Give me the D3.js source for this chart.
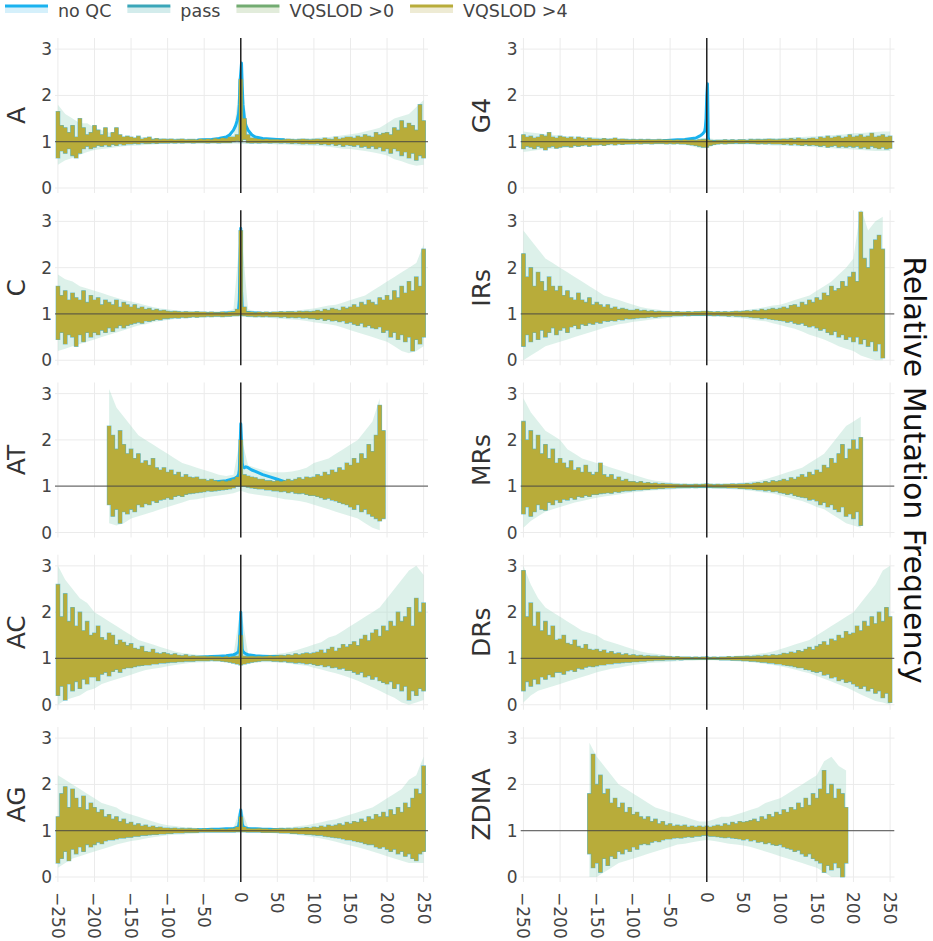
<!DOCTYPE html>
<html>
<head>
<meta charset="utf-8">
<script src="https://cdn.jsdelivr.net/npm/d3@7"></script>
<style>
body { margin: 0; background: #fff; }
svg { display: block; }
text { font-family: "DejaVu Sans", Verdana, sans-serif; }
</style>
</head>
<body>
<script>
// bins of the envelope data (5 bp) and of the confidence bands (10 bp)
const binPos = d3.range(-250, 251, 5)
const ciPos = d3.range(-250, 251, 10)
// positions of the "no QC" line around the centre
const centerPos = [-60,-50,-40,-30,-20,-15,-10,-7,-5,-3,-2,-1,0,1,2,3,5,7,10,15,20,30,40,50,60]

const seriesNames = ["no QC", "pass", "VQSLOD >0", "VQSLOD >4"]
const xTicks = [-250,-200,-150,-100,-50,0,50,100,150,200,250]
const yTicks = [0,1,2,3]

// ---- A ----
const A_hi = [1.65,1.35,1.3,1.2,1.35,1.1,1.5,1.3,1.15,1.2,
  1.35,1.25,1.15,1.3,1.1,1.2,1.3,1.15,1.1,1.12,
  1.1,1.08,1.12,1.06,1.08,1.1,1.05,1.07,1.05,1.06,
  1.05,1.06,1.04,1.05,1.06,1.04,1.05,1.05,1.04,1.06,
  1.05,1.06,1.05,1.07,1.06,1.08,1.07,1.1,1.1,1.15,
  2.35,1.5,1.15,1.08,1.07,1.06,1.05,1.06,1.05,1.05,
  1.05,1.04,1.05,1.06,1.05,1.04,1.05,1.06,1.05,1.04,
  1.05,1.06,1.05,1.08,1.06,1.05,1.1,1.06,1.08,1.1,
  1.1,1.08,1.12,1.1,1.15,1.12,1.1,1.2,1.15,1.18,
  1.2,1.15,1.3,1.25,1.45,1.3,1.4,1.35,1.25,1.8,
  1.45]
const A_lo = [0.65,0.8,0.75,0.85,0.7,0.65,0.75,0.85,0.9,0.85,
  0.88,0.92,0.9,0.93,0.9,0.94,0.92,0.95,0.93,0.95,
  0.95,0.96,0.95,0.97,0.96,0.96,0.97,0.96,0.97,0.97,
  0.97,0.98,0.97,0.98,0.97,0.98,0.98,0.97,0.98,0.98,
  0.98,0.97,0.98,0.98,0.97,0.98,0.98,0.98,1.0,1.02,
  1.0,1.05,0.98,0.97,0.98,0.97,0.98,0.98,0.97,0.98,
  0.98,0.97,0.98,0.97,0.96,0.97,0.96,0.95,0.96,0.95,
  0.95,0.96,0.94,0.95,0.93,0.95,0.92,0.94,0.9,0.93,
  0.92,0.9,0.93,0.88,0.9,0.86,0.9,0.85,0.88,0.8,
  0.85,0.75,0.85,0.8,0.7,0.78,0.65,0.75,0.6,0.7,
  0.65]
const A_ciHi = [1.8,1.6,1.5,1.4,1.4,1.3,1.25,1.2,1.15,1.12,
  1.1,1.1,1.1,1.08,1.08,1.07,1.07,1.07,1.06,1.06,
  1.07,1.07,1.08,1.1,1.15,2.5,1.2,1.1,1.08,1.07,
  1.07,1.07,1.06,1.07,1.07,1.08,1.09,1.1,1.12,1.14,
  1.16,1.18,1.22,1.26,1.3,1.4,1.5,1.55,1.6,1.75,
  1.9]
const A_ciLo = [0.5,0.6,0.65,0.72,0.78,0.82,0.84,0.86,0.88,0.9,
  0.91,0.92,0.93,0.94,0.95,0.95,0.95,0.96,0.96,0.96,
  0.96,0.96,0.96,0.96,0.96,0.95,0.95,0.95,0.95,0.95,
  0.94,0.94,0.93,0.92,0.92,0.91,0.9,0.89,0.87,0.85,
  0.84,0.82,0.8,0.77,0.74,0.7,0.62,0.58,0.52,0.48,
  0.5]
const A_qc = [1.03,1.04,1.05,1.07,1.1,1.15,1.25,1.35,1.45,1.6,1.8,2.3,2.5,2.7,2.2,1.8,1.5,1.35,1.25,1.15,1.1,1.07,1.06,1.05,1.04]

// ---- G4 ----
const G4_hi = [1.15,1.1,1.12,1.08,1.1,1.15,1.12,1.2,1.1,1.08,
  1.12,1.1,1.08,1.1,1.06,1.1,1.08,1.05,1.08,1.06,
  1.06,1.05,1.07,1.05,1.06,1.08,1.05,1.06,1.05,1.04,
  1.05,1.04,1.05,1.04,1.05,1.04,1.04,1.05,1.04,1.04,
  1.04,1.03,1.04,1.03,1.04,1.03,1.04,1.03,1.04,1.05,
  1.05,1.03,1.02,1.03,1.03,1.04,1.03,1.04,1.03,1.04,
  1.04,1.03,1.05,1.04,1.05,1.04,1.05,1.06,1.05,1.04,
  1.05,1.06,1.05,1.07,1.05,1.08,1.06,1.05,1.07,1.08,
  1.06,1.1,1.08,1.12,1.08,1.1,1.12,1.08,1.1,1.15,
  1.1,1.12,1.15,1.1,1.12,1.18,1.1,1.12,1.15,1.1,
  1.12]
const G4_lo = [0.85,0.9,0.88,0.85,0.9,0.87,0.82,0.88,0.9,0.86,
  0.88,0.9,0.9,0.88,0.92,0.9,0.92,0.93,0.9,0.93,
  0.93,0.94,0.92,0.94,0.95,0.93,0.95,0.94,0.95,0.95,
  0.95,0.96,0.95,0.96,0.96,0.95,0.96,0.96,0.96,0.95,
  0.96,0.95,0.96,0.95,0.95,0.94,0.93,0.92,0.9,0.88,
  0.88,0.92,0.94,0.95,0.96,0.95,0.96,0.96,0.97,0.96,
  0.96,0.97,0.96,0.96,0.95,0.96,0.95,0.96,0.95,0.95,
  0.95,0.94,0.95,0.93,0.95,0.93,0.92,0.94,0.92,0.93,
  0.92,0.9,0.92,0.88,0.9,0.92,0.88,0.9,0.88,0.9,
  0.88,0.9,0.86,0.88,0.85,0.9,0.87,0.85,0.88,0.84,
  0.86]
const G4_ciHi = [1.22,1.2,1.18,1.16,1.15,1.13,1.12,1.11,1.1,1.1,
  1.09,1.08,1.08,1.07,1.07,1.06,1.06,1.06,1.06,1.06,
  1.06,1.06,1.06,1.06,1.07,1.08,1.06,1.06,1.06,1.06,
  1.06,1.07,1.07,1.07,1.08,1.08,1.09,1.1,1.1,1.11,
  1.12,1.13,1.14,1.15,1.16,1.18,1.19,1.2,1.21,1.22,
  1.22]
const G4_ciLo = [0.78,0.8,0.82,0.84,0.85,0.86,0.87,0.88,0.89,0.9,
  0.91,0.92,0.92,0.93,0.93,0.94,0.94,0.94,0.94,0.94,
  0.94,0.94,0.93,0.9,0.86,0.86,0.92,0.94,0.94,0.94,
  0.94,0.94,0.93,0.93,0.92,0.92,0.91,0.9,0.9,0.89,
  0.88,0.87,0.86,0.85,0.84,0.83,0.82,0.81,0.8,0.8,
  0.8]
const G4_qc = [1.02,1.03,1.04,1.05,1.07,1.08,1.12,1.15,1.18,1.22,1.3,1.5,2.0,2.25,1.1,1.0,1.0,1.0,1.0,1.0,1.0,1.0,1.0,1.0,1.0]

// ---- C ----
const C_hi = [1.6,1.4,1.5,1.3,1.45,1.35,1.3,1.5,1.25,1.4,
  1.3,1.35,1.2,1.3,1.25,1.2,1.3,1.15,1.25,1.2,
  1.15,1.2,1.12,1.15,1.1,1.12,1.08,1.1,1.07,1.08,
  1.06,1.05,1.06,1.05,1.04,1.05,1.04,1.04,1.05,1.04,
  1.04,1.03,1.04,1.03,1.03,1.04,1.03,1.04,1.05,1.1,
  2.8,1.15,1.05,1.04,1.03,1.04,1.03,1.04,1.03,1.04,
  1.04,1.05,1.04,1.05,1.05,1.04,1.06,1.05,1.06,1.05,
  1.06,1.08,1.06,1.1,1.08,1.12,1.1,1.08,1.15,1.12,
  1.15,1.2,1.15,1.25,1.2,1.3,1.25,1.2,1.35,1.3,
  1.4,1.3,1.5,1.35,1.6,1.45,1.7,1.5,1.8,1.6,
  2.4]
const C_lo = [0.45,0.6,0.35,0.55,0.5,0.3,0.55,0.4,0.6,0.5,
  0.6,0.55,0.65,0.6,0.7,0.62,0.7,0.75,0.7,0.75,
  0.78,0.8,0.82,0.8,0.85,0.84,0.86,0.88,0.87,0.9,
  0.9,0.91,0.92,0.91,0.93,0.92,0.93,0.94,0.93,0.94,
  0.94,0.95,0.94,0.95,0.95,0.94,0.95,0.95,0.96,0.96,
  0.97,0.96,0.95,0.95,0.94,0.95,0.94,0.95,0.94,0.94,
  0.94,0.93,0.94,0.92,0.93,0.92,0.93,0.91,0.92,0.9,
  0.9,0.88,0.9,0.86,0.88,0.85,0.86,0.83,0.85,0.8,
  0.82,0.78,0.75,0.8,0.72,0.75,0.7,0.68,0.72,0.6,
  0.65,0.5,0.6,0.45,0.55,0.4,0.5,0.2,0.45,0.35,
  0.5]
const C_ciHi = [1.85,1.75,1.7,1.6,1.55,1.5,1.45,1.4,1.35,1.3,
  1.27,1.23,1.19,1.15,1.12,1.1,1.08,1.07,1.07,1.06,
  1.06,1.06,1.06,1.06,1.1,2.9,1.1,1.06,1.06,1.06,
  1.06,1.07,1.07,1.08,1.1,1.12,1.15,1.18,1.2,1.25,
  1.3,1.35,1.4,1.5,1.6,1.7,1.8,1.9,2.0,2.1,
  2.5]
const C_ciLo = [0.2,0.25,0.3,0.35,0.4,0.45,0.5,0.55,0.6,0.65,
  0.7,0.75,0.78,0.82,0.85,0.87,0.89,0.9,0.91,0.92,
  0.92,0.93,0.93,0.93,0.94,0.95,0.93,0.92,0.92,0.91,
  0.9,0.89,0.88,0.87,0.85,0.82,0.8,0.78,0.75,0.7,
  0.65,0.6,0.55,0.5,0.45,0.4,0.3,0.2,0.15,0.2,
  0.3]
const C_qc = [1.0,1.0,1.0,1.01,1.02,1.02,1.03,1.04,1.05,1.1,1.3,2.0,2.85,1.5,1.1,1.05,1.04,1.03,1.03,1.02,1.02,1.01,1.0,1.0,1.0]

// ---- IRs ----
const IRs_hi = [2.3,1.8,2.0,1.6,1.9,1.7,1.5,1.8,1.6,1.5,
  1.6,1.4,1.5,1.35,1.3,1.45,1.3,1.25,1.35,1.2,
  1.25,1.2,1.15,1.2,1.12,1.15,1.1,1.12,1.1,1.08,
  1.08,1.1,1.07,1.08,1.06,1.07,1.05,1.06,1.05,1.05,
  1.05,1.04,1.05,1.04,1.04,1.05,1.04,1.05,1.05,1.06,
  1.06,1.05,1.04,1.05,1.04,1.05,1.04,1.05,1.06,1.05,
  1.06,1.07,1.06,1.08,1.07,1.1,1.08,1.1,1.12,1.1,
  1.12,1.15,1.12,1.18,1.2,1.15,1.25,1.2,1.3,1.25,
  1.35,1.3,1.45,1.4,1.6,1.5,1.55,1.7,1.6,1.8,
  1.9,1.7,3.2,2.2,2.0,2.4,2.6,2.7,2.4,null,
  null]
const IRs_lo = [0.3,0.55,0.4,0.6,0.45,0.65,0.5,0.6,0.7,0.55,
  0.65,0.7,0.6,0.72,0.75,0.68,0.78,0.75,0.8,0.78,
  0.82,0.8,0.85,0.84,0.86,0.85,0.88,0.87,0.9,0.89,
  0.9,0.91,0.92,0.92,0.93,0.94,0.93,0.94,0.95,0.95,
  0.95,0.96,0.96,0.96,0.97,0.96,0.97,0.97,0.97,0.97,
  0.97,0.97,0.96,0.97,0.96,0.96,0.95,0.96,0.95,0.95,
  0.94,0.94,0.93,0.92,0.92,0.9,0.91,0.89,0.88,0.87,
  0.86,0.85,0.82,0.84,0.8,0.78,0.8,0.75,0.72,0.74,
  0.7,0.65,0.68,0.6,0.55,0.62,0.5,0.55,0.45,0.5,
  0.4,0.5,0.35,0.45,0.3,0.4,0.2,0.35,0.05,null,
  null]
const IRs_ciHi = [2.8,2.6,2.4,2.2,2.1,2.0,1.9,1.8,1.7,1.6,
  1.5,1.4,1.35,1.3,1.25,1.2,1.15,1.12,1.1,1.08,
  1.07,1.06,1.06,1.06,1.06,1.07,1.06,1.06,1.06,1.07,
  1.08,1.1,1.12,1.15,1.18,1.2,1.25,1.3,1.35,1.4,
  1.5,1.6,1.7,1.85,2.0,2.2,3.3,2.8,3.0,3.1,
  null]
const IRs_ciLo = [0.0,0.1,0.2,0.3,0.35,0.4,0.45,0.5,0.55,0.6,
  0.65,0.7,0.74,0.78,0.8,0.83,0.85,0.87,0.89,0.9,
  0.92,0.93,0.94,0.95,0.95,0.95,0.94,0.94,0.93,0.92,
  0.9,0.88,0.86,0.84,0.8,0.76,0.72,0.68,0.62,0.55,
  0.5,0.45,0.38,0.3,0.25,0.2,0.1,0.05,0.0,0.0,
  null]
const IRs_qc = [1,1,1,1,1,1,1,1,1,1,1,1,1.02,1,1,1,1,1,1,1,1,1,1,1,1]

// ---- AT ----
const AT_hi = [null,null,null,null,null,null,null,null,null,null,
  null,null,null,null,2.3,2.1,1.8,2.2,1.9,1.7,
  1.8,1.6,1.7,1.5,1.55,1.45,1.6,1.4,1.35,1.4,
  1.3,1.35,1.25,1.3,1.2,1.25,1.2,1.18,1.2,1.15,
  1.15,1.12,1.15,1.12,1.1,1.12,1.1,1.12,1.15,1.2,
  2.0,1.25,1.22,1.2,1.18,1.15,1.15,1.12,1.12,1.1,
  1.12,1.1,1.12,1.15,1.12,1.15,1.18,1.15,1.2,1.18,
  1.2,1.25,1.22,1.3,1.25,1.35,1.3,1.4,1.35,1.5,
  1.45,1.6,1.5,1.7,1.6,1.9,1.75,2.1,2.75,2.2,
  null,null,null,null,null,null,null,null,null,null,
  null]
const AT_lo = [null,null,null,null,null,null,null,null,null,null,
  null,null,null,null,0.6,0.35,0.5,0.2,0.45,0.4,
  0.5,0.45,0.6,0.55,0.62,0.6,0.68,0.65,0.7,0.72,
  0.75,0.72,0.78,0.8,0.78,0.82,0.84,0.85,0.86,0.87,
  0.88,0.9,0.89,0.9,0.91,0.92,0.93,0.94,0.96,1.0,
  1.0,1.0,0.98,0.96,0.95,0.94,0.94,0.92,0.92,0.9,
  0.9,0.88,0.89,0.86,0.88,0.85,0.84,0.85,0.82,0.8,
  0.8,0.78,0.75,0.72,0.74,0.7,0.68,0.65,0.62,0.6,
  0.55,0.5,0.6,0.45,0.5,0.4,0.35,0.3,0.25,0.3,
  null,null,null,null,null,null,null,null,null,null,
  null]
const AT_ciHi = [null,null,null,null,null,null,null,3.1,2.7,2.5,
  2.3,2.1,2.0,1.9,1.8,1.7,1.6,1.5,1.45,1.4,
  1.35,1.3,1.25,1.22,1.25,2.1,1.45,1.4,1.35,1.3,
  1.3,1.3,1.32,1.35,1.4,1.5,1.55,1.6,1.7,1.8,
  1.9,2.0,2.2,2.4,2.9,null,null,null,null,null,
  null]
const AT_ciLo = [null,null,null,null,null,null,null,0.2,0.15,0.2,
  0.3,0.35,0.4,0.45,0.5,0.55,0.6,0.65,0.7,0.72,
  0.75,0.78,0.8,0.82,0.85,0.9,0.85,0.82,0.8,0.78,
  0.75,0.72,0.7,0.68,0.65,0.6,0.55,0.5,0.45,0.4,
  0.35,0.3,0.2,0.1,0.05,null,null,null,null,null,
  null]
const AT_qc = [1.05,1.07,1.08,1.1,1.12,1.14,1.16,1.18,1.2,1.25,1.35,1.8,2.35,2.0,1.5,1.42,1.4,1.42,1.4,1.35,1.32,1.25,1.2,1.15,1.1]

// ---- MRs ----
const MRs_hi = [2.4,2.0,2.2,1.8,2.1,1.7,1.9,1.6,1.8,1.5,
  1.6,1.5,1.4,1.55,1.35,1.4,1.3,1.45,1.3,1.25,
  1.3,1.5,1.25,1.2,1.25,1.15,1.2,1.12,1.15,1.1,
  1.1,1.08,1.1,1.07,1.08,1.06,1.07,1.05,1.06,1.05,
  1.05,1.04,1.04,1.03,1.04,1.03,1.03,1.04,1.03,1.04,
  1.05,1.04,1.03,1.04,1.03,1.04,1.04,1.05,1.04,1.05,
  1.05,1.06,1.05,1.07,1.08,1.07,1.1,1.08,1.12,1.1,
  1.12,1.15,1.12,1.18,1.15,1.2,1.25,1.2,1.3,1.25,
  1.35,1.3,1.45,1.4,1.6,1.5,1.7,1.9,1.6,1.8,
  2.0,1.8,2.05,null,null,null,null,null,null,null,
  null]
const MRs_lo = [0.4,0.55,0.35,0.45,0.6,0.5,0.48,0.65,0.6,0.7,
  0.65,0.72,0.7,0.75,0.72,0.78,0.76,0.8,0.78,0.82,
  0.82,0.84,0.85,0.86,0.85,0.88,0.87,0.89,0.9,0.9,
  0.91,0.92,0.92,0.93,0.93,0.94,0.94,0.95,0.95,0.96,
  0.96,0.96,0.97,0.97,0.97,0.97,0.98,0.97,0.98,0.98,
  0.98,0.98,0.97,0.97,0.97,0.97,0.96,0.96,0.96,0.95,
  0.95,0.94,0.94,0.93,0.92,0.92,0.9,0.91,0.88,0.89,
  0.86,0.85,0.82,0.84,0.8,0.78,0.76,0.75,0.7,0.72,
  0.68,0.6,0.65,0.55,0.6,0.5,0.45,0.55,0.35,0.4,
  0.3,0.45,0.15,null,null,null,null,null,null,null,
  null]
const MRs_ciHi = [2.9,2.6,2.4,2.2,2.1,2.0,1.8,1.7,1.6,1.55,
  1.5,1.45,1.4,1.35,1.3,1.25,1.2,1.15,1.12,1.1,
  1.08,1.07,1.06,1.06,1.06,1.06,1.06,1.06,1.06,1.07,
  1.08,1.1,1.12,1.15,1.2,1.25,1.3,1.35,1.4,1.5,
  1.6,1.7,1.9,2.1,2.3,2.4,2.5,null,null,null,
  null]
const MRs_ciLo = [0.1,0.25,0.35,0.45,0.5,0.55,0.6,0.65,0.68,0.72,
  0.75,0.78,0.8,0.82,0.85,0.87,0.88,0.9,0.91,0.92,
  0.93,0.94,0.95,0.95,0.95,0.95,0.95,0.94,0.94,0.93,
  0.92,0.9,0.88,0.86,0.84,0.8,0.76,0.72,0.68,0.62,
  0.55,0.5,0.4,0.3,0.2,0.15,0.1,null,null,null,
  null]
const MRs_qc = [1,1,1,1,1,1,1,1,1,1,1,1,1.02,1,1,1,1,1,1,1,1,1,1,1,1]

// ---- AC ----
const AC_hi = [2.6,1.9,2.4,1.8,2.1,1.7,2.0,1.6,1.8,1.5,
  1.55,1.7,1.45,1.4,1.55,1.5,1.3,1.4,1.35,1.28,
  1.32,1.22,1.2,1.26,1.15,1.14,1.2,1.12,1.1,1.13,
  1.1,1.08,1.1,1.07,1.06,1.08,1.05,1.06,1.05,1.05,
  1.05,1.04,1.05,1.04,1.04,1.03,1.04,1.03,1.04,1.05,
  1.5,1.05,1.04,1.05,1.04,1.05,1.04,1.05,1.06,1.05,
  1.06,1.07,1.06,1.08,1.07,1.1,1.08,1.1,1.12,1.1,
  1.12,1.14,1.18,1.12,1.2,1.24,1.16,1.22,1.3,1.25,
  1.3,1.36,1.28,1.42,1.5,1.38,1.55,1.62,1.48,1.7,
  1.6,1.8,1.7,2.0,1.8,1.9,2.1,1.7,2.3,2.0,
  2.2]
const AC_lo = [0.2,0.4,0.1,0.45,0.3,0.5,0.35,0.55,0.45,0.6,
  0.6,0.52,0.66,0.7,0.62,0.72,0.76,0.7,0.78,0.8,
  0.8,0.82,0.84,0.85,0.86,0.86,0.88,0.88,0.9,0.9,
  0.91,0.92,0.92,0.93,0.93,0.94,0.94,0.94,0.95,0.95,
  0.95,0.95,0.96,0.95,0.95,0.94,0.93,0.92,0.9,0.88,
  0.86,0.88,0.9,0.92,0.93,0.94,0.95,0.95,0.95,0.94,
  0.94,0.93,0.94,0.92,0.92,0.9,0.91,0.9,0.88,0.89,
  0.87,0.85,0.86,0.82,0.84,0.8,0.81,0.77,0.79,0.74,
  0.74,0.7,0.66,0.7,0.6,0.63,0.55,0.6,0.52,0.48,
  0.45,0.5,0.35,0.45,0.3,0.4,0.1,0.3,0.2,0.35,
  0.3]
const AC_ciHi = [3.0,2.7,2.5,2.3,2.2,2.0,1.9,1.8,1.7,1.6,
  1.5,1.4,1.35,1.3,1.25,1.2,1.15,1.12,1.1,1.08,
  1.07,1.06,1.06,1.06,1.08,2.1,1.1,1.07,1.07,1.08,
  1.1,1.12,1.15,1.2,1.25,1.3,1.35,1.45,1.5,1.6,
  1.7,1.8,1.9,2.0,2.1,2.3,2.5,2.7,2.9,3.0,
  2.8]
const AC_ciLo = [0.0,0.1,0.15,0.2,0.3,0.35,0.45,0.5,0.55,0.6,
  0.65,0.7,0.75,0.78,0.8,0.83,0.86,0.88,0.9,0.91,
  0.92,0.93,0.93,0.92,0.88,0.84,0.88,0.91,0.92,0.92,
  0.91,0.9,0.88,0.86,0.84,0.8,0.76,0.72,0.68,0.63,
  0.58,0.52,0.45,0.38,0.3,0.22,0.15,0.05,0.0,0.05,
  0.1]
const AC_qc = [1.02,1.03,1.04,1.05,1.06,1.07,1.08,1.1,1.12,1.15,1.3,1.6,2.0,1.5,1.2,1.15,1.12,1.1,1.08,1.07,1.06,1.05,1.04,1.04,1.03]

// ---- DRs ----
const DRs_hi = [2.9,1.9,2.2,1.7,2.0,1.6,1.8,1.5,1.7,1.4,
  1.42,1.5,1.33,1.3,1.4,1.26,1.22,1.3,1.2,1.18,
  1.2,1.15,1.18,1.12,1.15,1.1,1.12,1.08,1.1,1.07,
  1.08,1.06,1.07,1.05,1.06,1.05,1.05,1.04,1.05,1.04,
  1.04,1.03,1.04,1.03,1.03,1.03,1.02,1.03,1.02,1.03,
  1.03,1.02,1.03,1.02,1.03,1.03,1.04,1.03,1.04,1.04,
  1.04,1.05,1.04,1.05,1.06,1.05,1.07,1.06,1.08,1.07,
  1.08,1.11,1.1,1.14,1.12,1.17,1.15,1.2,1.24,1.19,
  1.26,1.3,1.36,1.29,1.42,1.38,1.5,1.44,1.58,1.52,
  1.55,1.7,1.6,1.8,1.7,1.9,1.75,2.0,1.8,2.1,
  1.9]
const DRs_lo = [0.3,0.5,0.4,0.55,0.45,0.6,0.55,0.65,0.6,0.7,
  0.7,0.66,0.73,0.75,0.72,0.79,0.77,0.81,0.83,0.82,
  0.84,0.86,0.86,0.88,0.88,0.9,0.9,0.91,0.92,0.92,
  0.93,0.93,0.94,0.94,0.95,0.95,0.96,0.96,0.96,0.97,
  0.97,0.97,0.98,0.97,0.98,0.98,0.98,0.98,0.98,0.98,
  0.98,0.98,0.98,0.98,0.97,0.97,0.97,0.96,0.96,0.96,
  0.95,0.95,0.94,0.94,0.93,0.92,0.92,0.9,0.9,0.88,
  0.88,0.86,0.85,0.84,0.82,0.8,0.8,0.76,0.75,0.72,
  0.7,0.72,0.64,0.66,0.58,0.6,0.52,0.55,0.48,0.5,
  0.45,0.4,0.35,0.4,0.3,0.35,0.25,0.3,0.15,0.25,
  0.05]
const DRs_ciHi = [3.0,2.6,2.3,2.1,2.0,1.9,1.8,1.7,1.6,1.55,
  1.5,1.4,1.35,1.3,1.25,1.2,1.15,1.12,1.1,1.08,
  1.06,1.05,1.05,1.05,1.05,1.05,1.05,1.05,1.05,1.06,
  1.07,1.08,1.1,1.12,1.15,1.2,1.25,1.3,1.35,1.4,
  1.5,1.6,1.7,1.8,1.9,2.0,2.2,2.4,2.6,2.9,
  3.0]
const DRs_ciLo = [0.05,0.2,0.3,0.35,0.4,0.45,0.5,0.55,0.6,0.65,
  0.7,0.74,0.78,0.8,0.83,0.86,0.88,0.9,0.91,0.92,
  0.93,0.94,0.95,0.95,0.96,0.96,0.96,0.95,0.95,0.94,
  0.93,0.92,0.9,0.88,0.86,0.83,0.8,0.76,0.72,0.68,
  0.62,0.56,0.5,0.44,0.38,0.3,0.22,0.15,0.08,0.05,
  0.0]
const DRs_qc = [1,1,1,1,1,1,1,1,1,1,1,1,1.02,1,1,1,1,1,1,1,1,1,1,1,1]

// ---- AG ----
const AG_hi = [1.3,1.8,1.95,1.5,1.9,1.7,1.5,1.75,1.45,1.6,
  1.5,1.4,1.45,1.3,1.35,1.25,1.3,1.2,1.25,1.15,
  1.18,1.12,1.15,1.1,1.12,1.08,1.1,1.07,1.08,1.06,
  1.06,1.05,1.06,1.04,1.05,1.04,1.05,1.04,1.04,1.03,
  1.04,1.03,1.04,1.03,1.03,1.04,1.03,1.04,1.05,1.08,
  1.3,1.08,1.05,1.04,1.04,1.05,1.04,1.04,1.03,1.04,
  1.04,1.05,1.04,1.05,1.04,1.06,1.05,1.06,1.07,1.06,
  1.08,1.07,1.1,1.08,1.12,1.1,1.12,1.15,1.12,1.18,
  1.15,1.2,1.18,1.25,1.2,1.3,1.25,1.35,1.3,1.4,
  1.3,1.45,1.35,1.5,1.4,1.6,1.5,1.7,1.9,1.8,
  2.4]
const AG_lo = [0.3,0.4,0.55,0.35,0.6,0.5,0.65,0.55,0.7,0.65,
  0.7,0.75,0.72,0.78,0.8,0.8,0.82,0.84,0.84,0.86,
  0.86,0.88,0.88,0.9,0.9,0.91,0.92,0.92,0.93,0.93,
  0.94,0.94,0.95,0.95,0.95,0.96,0.96,0.96,0.96,0.97,
  0.97,0.97,0.97,0.97,0.97,0.97,0.97,0.97,0.97,0.98,
  0.98,0.98,0.97,0.97,0.97,0.97,0.96,0.96,0.96,0.96,
  0.96,0.95,0.95,0.95,0.94,0.94,0.93,0.93,0.92,0.92,
  0.91,0.9,0.9,0.88,0.87,0.86,0.85,0.84,0.82,0.8,
  0.8,0.78,0.76,0.75,0.72,0.7,0.7,0.65,0.62,0.65,
  0.6,0.55,0.6,0.5,0.55,0.45,0.5,0.4,0.35,0.5,
  0.55]
const AG_ciHi = [2.2,2.1,2.0,1.9,1.8,1.7,1.6,1.55,1.5,1.4,
  1.35,1.3,1.25,1.2,1.15,1.12,1.1,1.08,1.07,1.06,
  1.06,1.05,1.05,1.05,1.06,1.5,1.08,1.05,1.05,1.05,
  1.06,1.07,1.08,1.1,1.12,1.15,1.18,1.22,1.25,1.3,
  1.35,1.4,1.45,1.5,1.6,1.7,1.8,1.9,2.1,2.2,
  2.6]
const AG_ciLo = [0.2,0.3,0.4,0.45,0.5,0.55,0.6,0.65,0.7,0.74,
  0.78,0.8,0.83,0.86,0.88,0.9,0.91,0.92,0.93,0.94,
  0.95,0.95,0.95,0.95,0.95,0.95,0.95,0.95,0.95,0.95,
  0.94,0.93,0.92,0.9,0.88,0.86,0.83,0.8,0.76,0.72,
  0.68,0.64,0.6,0.55,0.5,0.45,0.4,0.35,0.3,0.3,
  0.3]
const AG_qc = [1.02,1.02,1.03,1.03,1.04,1.04,1.05,1.06,1.07,1.1,1.2,1.35,1.45,1.3,1.15,1.1,1.07,1.06,1.05,1.04,1.04,1.03,1.03,1.02,1.02]

// ---- ZDNA ----
const ZDNA_hi = [null,null,null,null,null,null,null,null,null,null,
  null,null,null,null,null,null,null,null,1.8,2.65,
  2.0,2.2,1.8,1.9,1.6,1.7,1.5,1.6,1.4,1.5,
  1.35,1.4,1.3,1.25,1.3,1.2,1.25,1.15,1.2,1.12,
  1.15,1.1,1.12,1.1,1.12,1.08,1.1,1.08,1.1,1.08,
  1.1,1.08,1.1,1.12,1.1,1.15,1.12,1.18,1.15,1.2,
  1.18,1.2,1.22,1.25,1.2,1.3,1.25,1.35,1.3,1.4,
  1.35,1.45,1.4,1.5,1.45,1.6,1.5,1.7,1.55,1.8,
  1.7,1.9,2.3,1.8,2.0,1.7,1.9,1.8,1.5,null,
  null,null,null,null,null,null,null,null,null,null,
  null]
const ZDNA_lo = [null,null,null,null,null,null,null,null,null,null,
  null,null,null,null,null,null,null,null,0.5,0.2,
  0.3,0.1,0.4,0.25,0.45,0.4,0.55,0.5,0.6,0.55,
  0.65,0.6,0.7,0.72,0.7,0.75,0.78,0.76,0.8,0.82,
  0.82,0.84,0.85,0.84,0.86,0.87,0.86,0.88,0.88,0.9,
  0.9,0.88,0.88,0.87,0.86,0.85,0.86,0.84,0.83,0.82,
  0.8,0.82,0.78,0.8,0.75,0.76,0.72,0.74,0.7,0.68,
  0.7,0.65,0.62,0.6,0.55,0.58,0.5,0.45,0.5,0.4,
  0.35,0.3,0.1,0.25,0.15,0.3,0.2,0.0,0.3,null,
  null,null,null,null,null,null,null,null,null,null,
  null]
const ZDNA_ciHi = [null,null,null,null,null,null,null,null,null,2.9,
  2.6,2.4,2.2,2.0,1.9,1.8,1.7,1.6,1.5,1.45,
  1.4,1.35,1.3,1.25,1.2,1.2,1.25,1.3,1.3,1.35,
  1.4,1.45,1.5,1.6,1.65,1.7,1.8,1.9,2.0,2.1,
  2.2,2.5,2.6,2.4,2.3,null,null,null,null,null,
  null]
const ZDNA_ciLo = [null,null,null,null,null,null,null,null,null,0.0,
  0.0,0.1,0.2,0.3,0.35,0.4,0.45,0.5,0.55,0.6,
  0.65,0.7,0.72,0.75,0.78,0.8,0.78,0.75,0.72,0.7,
  0.68,0.65,0.6,0.55,0.5,0.45,0.4,0.35,0.3,0.25,
  0.2,0.1,0.0,0.0,0.0,null,null,null,null,null,
  null]
const ZDNA_qc = [1,1,1,1,1,1,1,1,1,1,1,1,1.02,1,1,1,1,1,1,1,1,1,1,1,1]

const panels = [
  {name: "A", hi: A_hi, lo: A_lo, ciHi: A_ciHi, ciLo: A_ciLo, qc: A_qc},
  {name: "G4", hi: G4_hi, lo: G4_lo, ciHi: G4_ciHi, ciLo: G4_ciLo, qc: G4_qc},
  {name: "C", hi: C_hi, lo: C_lo, ciHi: C_ciHi, ciLo: C_ciLo, qc: C_qc},
  {name: "IRs", hi: IRs_hi, lo: IRs_lo, ciHi: IRs_ciHi, ciLo: IRs_ciLo, qc: IRs_qc},
  {name: "AT", hi: AT_hi, lo: AT_lo, ciHi: AT_ciHi, ciLo: AT_ciLo, qc: AT_qc},
  {name: "MRs", hi: MRs_hi, lo: MRs_lo, ciHi: MRs_ciHi, ciLo: MRs_ciLo, qc: MRs_qc},
  {name: "AC", hi: AC_hi, lo: AC_lo, ciHi: AC_ciHi, ciLo: AC_ciLo, qc: AC_qc},
  {name: "DRs", hi: DRs_hi, lo: DRs_lo, ciHi: DRs_ciHi, ciLo: DRs_ciLo, qc: DRs_qc},
  {name: "AG", hi: AG_hi, lo: AG_lo, ciHi: AG_ciHi, ciLo: AG_ciLo, qc: AG_qc},
  {name: "ZDNA", hi: ZDNA_hi, lo: ZDNA_lo, ciHi: ZDNA_ciHi, ciLo: ZDNA_ciLo, qc: ZDNA_qc}
]

// colours
const lineCol = ["#19b2ef", "#3aa6b9", "#72ab71", "#b8ac3a"]
const bandCol = ["#d5f0fb", "#d3ecec", "#e2ecdb", "#eeebd4"]

const W = 933, H = 941
const xDomain = [-254, 256]
const colRange = [[55, 428], [520.5, 894.5]]
const rowTop = 38, rowStep = 172.25, plotH = 155

const svg = d3.select("body").append("svg")
    .attr("width", W)
    .attr("height", H)

// turn bins into a piecewise-constant outline
function steps(pos, hi, lo, half) {
    let pts = []
    pos.forEach((p, i) => {
        let a = Math.max(p - half, xDomain[0]), b = Math.min(p + half, xDomain[1])
        pts.push({x: a, hi: hi[i], lo: lo[i]})
        pts.push({x: b, hi: hi[i], lo: lo[i]})
    })
    return pts
}

panels.forEach((p, i) => {
    let col = i % 2, row = Math.floor(i / 2)
    let top = rowTop + row * rowStep
    let x = d3.scaleLinear().domain(xDomain).range(colRange[col])
    let y = d3.scaleLinear().domain([-0.108, 3.24]).range([top + plotH, top])
    let left = colRange[col][0], right = colRange[col][1]

    let g = svg.append("g")

    // grid
    g.selectAll("line.vg").data(xTicks).enter().append("line")
        .attr("x1", d => x(d)).attr("x2", d => x(d))
        .attr("y1", top).attr("y2", top + plotH)
        .attr("stroke", "#ebebeb").attr("stroke-width", 1)
    g.selectAll("line.hg").data(yTicks).enter().append("line")
        .attr("x1", left).attr("x2", right)
        .attr("y1", d => y(d)).attr("y2", d => y(d))
        .attr("stroke", "#ebebeb").attr("stroke-width", 1)

    // y tick labels
    g.selectAll("text.yt").data(yTicks).enter().append("text")
        .attr("x", left - 3)
        .attr("y", d => y(d))
        .attr("text-anchor", "end")
        .attr("dominant-baseline", "central")
        .attr("font-size", 17)
        .attr("fill", "#444")
        .text(d => d)

    // panel label
    g.append("text")
        .attr("transform", "translate(" + (col == 0 ? 16 : 481) + "," + (top + plotH / 2) + ") rotate(-90)")
        .attr("text-anchor", "middle")
        .attr("dominant-baseline", "central")
        .attr("font-size", 25)
        .attr("fill", "#333")
        .text(p.name)

    // clip
    let clipId = "clip" + i
    svg.append("clipPath").attr("id", clipId)
        .append("rect").attr("x", left).attr("y", top).attr("width", right - left).attr("height", plotH)
    let data = g.append("g").attr("clip-path", "url(#" + clipId + ")")

    let area = d3.area()
        .defined(d => d.hi != null && d.lo != null)
        .x(d => x(d.x)).y0(d => y(d.lo)).y1(d => y(d.hi))

    // confidence band, drawn faint
    let ciArea = d3.area()
        .defined((d, j) => p.ciHi[j] != null)
        .x((d, j) => x(Math.max(xDomain[0], Math.min(xDomain[1], ciPos[j]))))
        .y0((d, j) => y(p.ciLo[j])).y1((d, j) => y(p.ciHi[j]))
    data.append("path")
        .attr("d", ciArea(ciPos))
        .attr("fill", "#a9dccb")
        .attr("opacity", 0.4)

    // no QC line
    let line = d3.line().x((d, j) => x(centerPos[j])).y(d => y(d))
    data.append("path")
        .attr("d", line(p.qc))
        .attr("fill", "none")
        .attr("stroke", lineCol[0])
        .attr("stroke-width", 3)
        .attr("stroke-linejoin", "round")

    // pass edge under the VQSLOD >4 envelope
    let env = steps(binPos, p.hi, p.lo, 2.5)
    data.append("path")
        .attr("d", area(env))
        .attr("fill", lineCol[1])
        .attr("stroke", lineCol[1])
        .attr("stroke-opacity", 0.6)
        .attr("stroke-width", 1.1)
    data.append("path")
        .attr("d", area(env))
        .attr("fill", lineCol[3])

    // reference lines
    data.append("line")
        .attr("x1", left).attr("x2", right)
        .attr("y1", y(1)).attr("y2", y(1))
        .attr("stroke", "#444").attr("stroke-opacity", 0.75).attr("stroke-width", 1.3)
    g.append("line")
        .attr("x1", x(0)).attr("x2", x(0))
        .attr("y1", top).attr("y2", top + plotH)
        .attr("stroke", "#222").attr("stroke-width", 1.5)

    // x tick labels on the bottom row
    if (row == 4) {
        g.selectAll("text.xt").data(xTicks).enter().append("text")
            .attr("transform", d => "translate(" + x(d) + "," + (top + plotH + 10) + ") rotate(90)")
            .attr("text-anchor", "start")
            .attr("dominant-baseline", "central")
            .attr("font-size", 17)
            .attr("fill", "#444")
            .text(d => d < 0 ? "\u2212" + Math.abs(d) : d)
    }
})

// right-hand title
svg.append("text")
    .attr("transform", "translate(914,470) rotate(90)")
    .attr("text-anchor", "middle")
    .attr("dominant-baseline", "central")
    .attr("font-size", 30)
    .attr("fill", "#111")
    .text("Relative Mutation Frequency")

// legend
let lx = 5
seriesNames.forEach((s, i) => {
    let lg = svg.append("g")
    lg.append("rect")
        .attr("x", lx).attr("y", 6).attr("width", 43).attr("height", 7)
        .attr("fill", bandCol[i])
    lg.append("line")
        .attr("x1", lx).attr("x2", lx + 43)
        .attr("y1", 6).attr("y2", 6)
        .attr("stroke", lineCol[i]).attr("stroke-width", 3)
    let t = lg.append("text")
        .attr("x", lx + 53).attr("y", 11)
        .attr("dominant-baseline", "central")
        .attr("font-size", 17.5)
        .attr("fill", "#444")
        .text(s)
    lx = lx + 53 + t.node().getComputedTextLength() + 16
})
</script>
</body>
</html>
